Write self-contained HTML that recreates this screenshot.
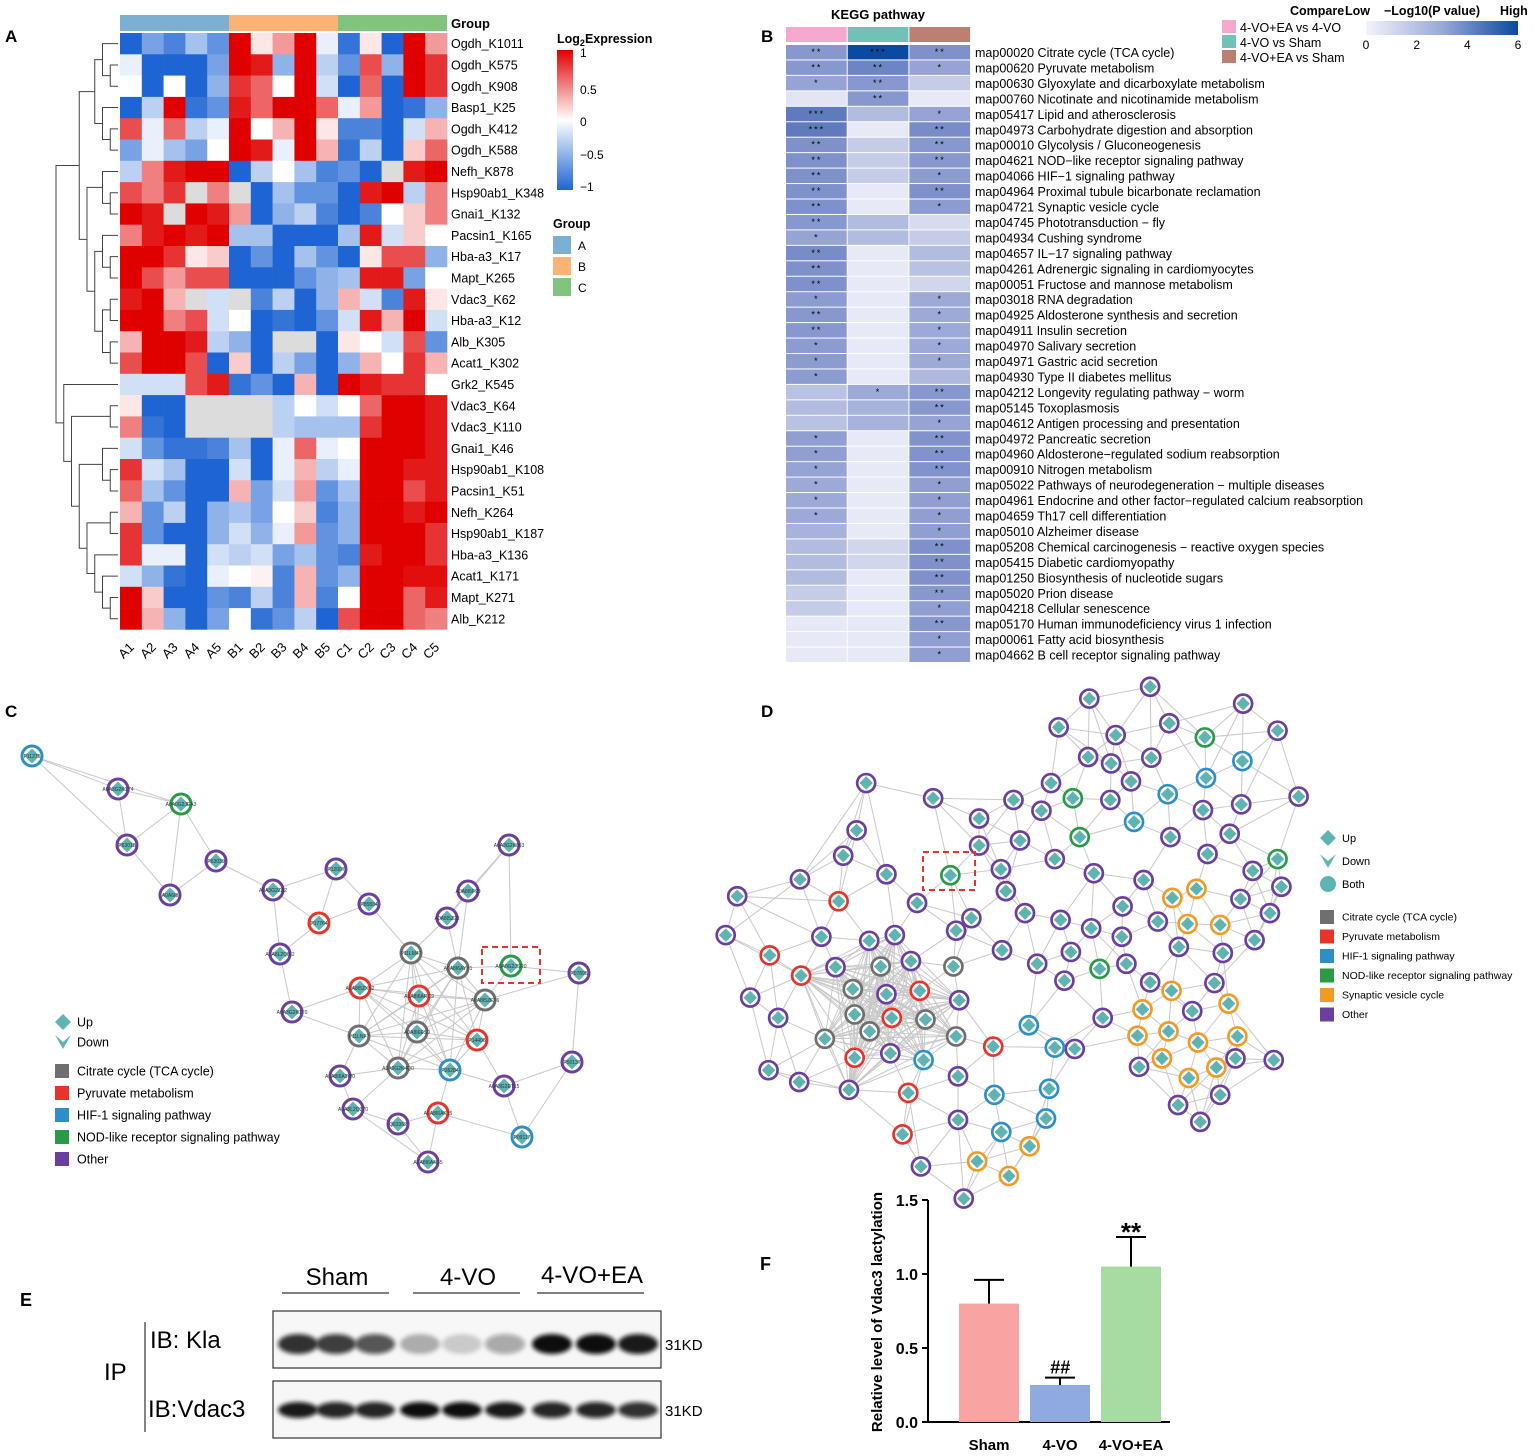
<!DOCTYPE html>
<html><head><meta charset="utf-8">
<style>
html,body{margin:0;padding:0;background:#fff;}
svg{display:block;font-family:"Liberation Sans",Arial,sans-serif;}
</style></head>
<body>
<svg id="fig" width="1535" height="1456" viewBox="0 0 1535 1456" xmlns="http://www.w3.org/2000/svg">
<defs>
<filter id="blur2" x="-20%" y="-50%" width="140%" height="200%"><feGaussianBlur stdDeviation="2.2"/></filter>
<linearGradient id="gradA" x1="0" y1="0" x2="0" y2="1"><stop offset="0" stop-color="#e00000"/><stop offset="0.5" stop-color="#ffffff"/><stop offset="1" stop-color="#1e64d2"/></linearGradient>
<linearGradient id="gradB" x1="0" y1="0" x2="1" y2="0"><stop offset="0" stop-color="#f2f4fb"/><stop offset="0.5" stop-color="#9aa8d8"/><stop offset="1" stop-color="#0a4aa0"/></linearGradient>
</defs>
<g id="panelA"></g>
<g id="panelB"></g>
<g id="panelC"></g>
<g id="panelD"></g>
<g id="panelE"></g>
<g id="panelF"></g>
</svg>
<script>
// ---------- Panel A data ----------
const aSamples=["A1","A2","A3","A4","A5","B1","B2","B3","B4","B5","C1","C2","C3","C4","C5"];
const aGenes=["Ogdh_K1011","Ogdh_K575","Ogdh_K908","Basp1_K25","Ogdh_K412","Ogdh_K588","Nefh_K878","Hsp90ab1_K348","Gnai1_K132","Pacsin1_K165","Hba-a3_K17","Mapt_K265","Vdac3_K62","Hba-a3_K12","Alb_K305","Acat1_K302","Grk2_K545","Vdac3_K64","Vdac3_K110","Gnai1_K46","Hsp90ab1_K108","Pacsin1_K51","Nefh_K264","Hsp90ab1_K187","Hba-a3_K136","Acat1_K171","Mapt_K271","Alb_K212"];
const N=null;
const aValues=[
[-1,-.6,-.8,-.4,-.7,1,.1,.4,1,-.1,-.9,.1,-1,1,.4],
[-.1,-1,-1,-1,-.6,1,.9,-.5,1,-.3,-.7,.7,-.5,1,.8],
[0,-1,0,-1,-.5,.8,.6,0,1,-.2,-1,.6,-1,1,.8],
[-1,-.3,1,-.9,-.7,.9,.6,1,1,.6,-.1,.4,-1,-.9,-.5],
[.7,-.1,.6,-.3,-.1,1,0,.3,1,.1,-.8,-.8,-1,-.2,.3],
[-.6,-.1,-.4,-.6,0,1,.9,-.1,1,.3,-.9,-.3,-1,.2,.6],
[-.3,.5,.9,1,1,-1,-.3,0,-.4,-.8,-.7,-1,N,.9,1],
[.7,.5,.8,N,.5,N,-1,-.4,-.7,-.7,-1,.9,1,-.3,.5],
[1,.9,N,1,.9,.4,-1,-.5,-.3,-.8,-1,-.8,0,.2,.5],
[.5,.9,1,.9,1,-.4,-.4,-1,-1,-1,-.4,.9,-.2,.2,0],
[1,1,.8,.1,.2,-1,-.7,-1,-.4,-.7,-1,.1,.7,.7,-.5],
[1,.7,.4,.7,.7,-1,-1,-1,-.7,-.5,-.4,.9,.9,-.6,0],
[.9,1,.3,N,-.2,N,-.8,-.3,-1,-.5,.3,-.2,-.8,.9,.1],
[1,1,.5,.7,-.2,0,-1,-.9,-1,-.7,-.2,.9,.3,1,-.2],
[.3,1,1,.9,-.3,-.5,-1,N,N,-1,.1,0,-.2,.7,-.7],
[.7,1,1,.7,-1,.2,-1,-.3,-.6,-1,-.5,.3,0,.8,.3],
[-.2,-.2,-.2,.7,.9,-.9,-.7,-1,.3,-1,1,.9,.8,.8,0],
[.1,-1,-1,N,N,N,N,-.3,0,-.2,0,.6,1,1,.9],
[.5,-.9,-1,N,N,N,N,-.3,-.4,-.4,-.4,.8,1,1,.9],
[-.2,-.7,-.9,-.9,-.8,-.4,-1,-.1,.6,-.1,0,1,1,1,.9],
[.8,-.2,-.4,-1,-1,-.2,-1,-.1,.3,-.3,-.1,1,1,.9,.9],
[.6,-.4,-.7,-1,-1,.3,-.6,-.2,.4,-.7,-.4,1,1,.7,.9],
[.3,-.7,-.3,-1,-.5,-.4,-.6,0,.2,-.8,-.5,1,1,.9,1],
[.8,-.7,-1,-1,-.5,-.2,-.5,-.1,.4,-.7,-.5,1,1,1,.8],
[.8,-.1,-.1,-1,-.2,-.3,-.2,-.6,-.4,-.7,-.8,.9,1,1,.8],
[-.2,-.5,-.9,-1,-.1,0,.05,-.8,.3,-.7,-.5,1,1,.95,.95],
[1,.2,-1,-1,-.7,-.8,-.3,-.8,.3,-.8,0,1,1,.6,.9],
[1,.3,-.5,-1,-.6,0,-.9,-.7,-.3,-1,.7,1,1,.6,.5]];
const aGroups=["A","B","C"];
const aTree=[[[[0,[1,2]],[3,[4,5]]],[[6,[7,8]],[[9,[10,11]],[[12,13],[14,15]]]]],[16,[[17,18],[[19,[20,21]],[[22,23],[24,[25,[26,27]]]]]]]];

// ---------- Panel B data ----------
const bPathways=["map00020 Citrate cycle (TCA cycle)","map00620 Pyruvate metabolism","map00630 Glyoxylate and dicarboxylate metabolism","map00760 Nicotinate and nicotinamide metabolism","map05417 Lipid and atherosclerosis","map04973 Carbohydrate digestion and absorption","map00010 Glycolysis / Gluconeogenesis","map04621 NOD−like receptor signaling pathway","map04066 HIF−1 signaling pathway","map04964 Proximal tubule bicarbonate reclamation","map04721 Synaptic vesicle cycle","map04745 Phototransduction − fly","map04934 Cushing syndrome","map04657 IL−17 signaling pathway","map04261 Adrenergic signaling in cardiomyocytes","map00051 Fructose and mannose metabolism","map03018 RNA degradation","map04925 Aldosterone synthesis and secretion","map04911 Insulin secretion","map04970 Salivary secretion","map04971 Gastric acid secretion","map04930 Type II diabetes mellitus","map04212 Longevity regulating pathway − worm","map05145 Toxoplasmosis","map04612 Antigen processing and presentation","map04972 Pancreatic secretion","map04960 Aldosterone−regulated sodium reabsorption","map00910 Nitrogen metabolism","map05022 Pathways of neurodegeneration − multiple diseases","map04961 Endocrine and other factor−regulated calcium reabsorption","map04659 Th17 cell differentiation","map05010 Alzheimer disease","map05208 Chemical carcinogenesis − reactive oxygen species","map05415 Diabetic cardiomyopathy","map01250 Biosynthesis of nucleotide sugars","map05020 Prion disease","map04218 Cellular senescence","map05170 Human immunodeficiency virus 1 infection","map00061 Fatty acid biosynthesis","map04662 B cell receptor signaling pathway"];
const bComparisons=["4-VO+EA vs 4-VO","4-VO vs Sham","4-VO+EA vs Sham"];
const bCol1=[2.5,2.5,2,0.3,3.5,3.5,2.8,2.8,2.8,2.8,2.8,2.5,2,3,2.8,2.8,2.3,2.5,2.5,2.3,2.3,2.3,1,1.2,1,2.2,2.2,2,1.8,1.8,1.8,1.5,1.2,1.2,1.2,0.8,0.8,0.2,0.2,0.2];
const bCol2=[6,3.2,2.5,2.5,1.2,0.2,0.8,0.8,0.8,0.2,0.2,1.2,1.2,0.2,0.2,0.2,0.2,0.2,0.2,0.2,0.2,0.2,1.8,1.5,1.5,0.2,0.2,0.2,0.2,0.2,0.2,0.2,0.6,0.6,0.2,0.2,0.2,0.2,0.2,0.2];
const bCol3=[2.8,2,0.8,0.2,2,3,2.5,2.5,2.3,2.8,2.3,0.5,0.8,1.2,1.0,0.6,1.8,1.8,1.8,1.8,1.8,1.3,2.5,2.5,2,2.7,2.7,2.7,2.2,2.2,2.2,2.2,2.8,2.8,2.8,2.5,2.2,2.5,2.2,2.2];
const bStars1=["**","**","*","","***","***","**","**","**","**","**","**","*","**","**","**","*","**","**","*","*","*","","","","*","*","*","*","*","*","","","","","","","","",""];
const bStars2=["***","**","**","**","","","","","","","","","","","","","","","","","","","*","","","","","","","","","","","","","","","","",""];
const bStars3=["**","*","","","*","**","**","**","*","**","*","","","","","","*","*","*","*","*","","**","**","*","**","**","**","*","*","*","*","**","**","**","**","*","**","*","*"];
const bTicks=[0,2,4,6];

// ---------- Panel F data ----------
const fGroups=["Sham","4-VO","4-VO+EA"];
const fMeans=[0.80,0.25,1.05];
const fErrors=[0.16,0.05,0.20];
const fMarks=["","##","**"];
const fTicks=[0,0.5,1.0,1.5];

// ---------- Panel E data (band intensities) ----------
const eKla=[0.85,0.8,0.7,0.3,0.18,0.35,1,1,0.95];
const eVdac3=[0.95,0.9,0.9,1,1,0.95,0.9,0.9,0.85];

// ---------- Network layouts ----------
const cNodes=[[32,756,"P11275","b"],[118,789,"A0A3G2K1Y4","p"],[181,804,"A0A0G2JEA3","g"],[127,845,"P63018","p"],[216,861,"P63039","p"],[170,895,"A0A6I8","p"],[273,890,"A0A3G2ZA2","p"],[336,869,"P12007","p"],[369,904,"P85834","p"],[319,923,"P17764","r"],[447,918,"A0A8I5Z23","p"],[468,891,"A0A8I6F99","p"],[509,845,"A0A3G2K863","p"],[411,953,"P11LM47","k"],[458,968,"A0A8I6AYY1","k"],[511,966,"A0A0G2JSR0","g"],[579,973,"P07895","p"],[280,954,"A0A8L2QBI2","p"],[360,988,"A0A8I5ZXS2","r"],[419,996,"A0A8I6ARC9","r"],[485,1000,"A0A8I5ZET6","k"],[292,1012,"A0A3G2K1T0","p"],[359,1036,"P11LNF7","k"],[417,1032,"A0A8I6ES0","k"],[477,1040,"P14408","r"],[398,1068,"A0A0G2K4Q0","k"],[450,1070,"P26284","b"],[340,1076,"A0A8I6A3W0","p"],[572,1062,"P50137","p"],[504,1086,"A0A3G2ET15","p"],[438,1113,"A0A8I6AK15","r"],[353,1109,"A0A8L2Q370","p"],[398,1124,"Q63362","p"],[522,1137,"P09117","b"],[428,1162,"A0A8I6A4G5","p"]];
const dPurple=[[1137,20],[978,55],[1380,70],[1470,150],[898,140],[1047,163],[1187,128],[975,228],[1035,247],[1140,230],[1087,300],[878,305],[780,355],[853,387],[1033,355],[1375,368],[1275,385],[1525,345],[690,410],[570,350],[395,305],[370,445],[690,490],[797,475],[1190,465],[1345,455],[1287,515],[888,530],[747,560],[990,572],[1120,592],[335,520],[448,575],[222,590],[58,640],[760,625],[528,660],[1405,565],[1480,612],[1373,648],[1065,670],[810,690],[903,710],[983,735],[1063,760],[1157,715],[1450,690],[1410,770],[1212,790],[1327,808],[28,755],[278,760],[403,772],[470,755],[630,742],[670,705],[750,800],[512,832],[842,840],[930,805],[1075,840],[315,850],[913,890],[1137,895],[1305,897],[1247,980],[92,940],[448,930],[638,948],[165,1000],[1013,1000],[940,1092],[458,1105],[1360,1120],[1108,1145],[140,1155],[220,1190],[350,1213],[635,1173],[635,1302],[538,1440],[1320,1228],[1210,1258],[1268,1308],[1460,1125],[650,1535]];
const dGray=[[433,848],[623,848],[360,915],[365,990],[550,1005],[404,1040],[630,1055],[287,1062]];
const dRed=[[323,655],[143,815],[225,875],[535,920],[462,1000],[365,1118],[727,1085],[505,1222],[490,1345]];
const dBlue=[[1378,240],[1283,290],[1183,338],[1095,420],[820,1022],[888,1088],[730,1228],[873,1210],[865,1298],[748,1338],[545,1125]];
const dGreen=[[1280,170],[935,350],[953,465],[615,578],[1470,530],[1005,855]];
const dOrange=[[1195,645],[1258,618],[1235,722],[1320,725],[1193,920],[1342,958],[1117,975],[1104,1053],[1185,1040],[1262,1073],[1365,1055],[1168,1120],[1310,1147],[1238,1178],[822,1380],[685,1425],[768,1468]];

const NS="http://www.w3.org/2000/svg";
function mk(parent,tag,attrs,text){const e=document.createElementNS(NS,tag);for(const k in attrs)e.setAttribute(k,attrs[k]);if(text!==undefined)e.textContent=text;parent.appendChild(e);return e;}
function lerp(a,b,t){return Math.round(a+(b-a)*t);}
function mix(c1,c2,t){return `rgb(${lerp(c1[0],c2[0],t)},${lerp(c1[1],c2[1],t)},${lerp(c1[2],c2[2],t)})`;}

// ===== Panel A =====
(function(){
const g=document.getElementById('panelA');
let t=mk(g,'text',{x:5,y:42,'font-size':17,'font-weight':'bold'},'A');

const x0=120,cw=21.8,y0=33,rh=21.3;
const xS=i=>x0+i*cw, yS=j=>y0+j*rh;
const red=[224,0,0],wh=[255,255,255],bl=[30,100,210];
function col(v){if(v===null)return '#dcdcdc';return v>=0?mix(wh,red,v):mix(wh,bl,-v);}
const gcol=["#7bafd4","#fdb275","#80c47d"];
aGroups.forEach((gr,k)=>{const r=mk(g,'rect',{x:xS(k*5),y:15,width:cw*5,height:16,fill:gcol[k]});
});
t=mk(g,'text',{x:451,y:28,'font-size':13,'font-weight':'bold'},'Group');

aValues.forEach((row,j)=>{row.forEach((v,i)=>{const r=mk(g,'rect',{x:xS(i),y:yS(j),width:cw+0.3,height:rh+0.3,fill:col(v)});
});
const lb=mk(g,'text',{x:451,y:yS(j)+rh/2+4.5,'font-size':12.5},aGenes[j]);
});
aSamples.forEach((s,i)=>{const cx=xS(i)+cw/2+4,cy=648;const lb=mk(g,'text',{x:cx,y:cy,'font-size':13,'text-anchor':'end',transform:`rotate(-45 ${cx} ${cy})`},s);
});
const dg=mk(g,'g',{stroke:'#444','stroke-width':1,fill:'none'});

function depth(n){return Array.isArray(n)?1+Math.max(depth(n[0]),depth(n[1])):0;}
const D=depth(aTree);
function draw(n){if(!Array.isArray(n))return{y:yS(n)+rh/2,x:118};
const a=draw(n[0]),b=draw(n[1]);const x=118-depth(n)*(62/D);
mk(dg,'path',{d:`M${a.x},${a.y}H${x}V${b.y}H${b.x}`});return{y:(a.y+b.y)/2,x:x};}
draw(aTree);
t=mk(g,'text',{x:557,y:43,'font-size':12.5,'font-weight':'bold'},'Log');
mk(t,'tspan',{'font-size':9,dy:3},'2');mk(t,'tspan',{dy:-3},'Expression');
const cb=mk(g,'rect',{x:557,y:50,width:16,height:140,fill:'url(#gradA)'});
[["1",57],["0.5",94],["0",126],["−0.5",159],["−1",191]].forEach(([s,y])=>{const l=mk(g,'text',{x:580,y:y,'font-size':12},s);});
t=mk(g,'text',{x:553,y:228,'font-size':12.5,'font-weight':'bold'},'Group');
aGroups.forEach((gr,k)=>{const r=mk(g,'rect',{x:553,y:236+k*21,width:18,height:18,fill:gcol[k]});
const l=mk(g,'text',{x:578,y:250+k*21,'font-size':12},gr);});
})();

// ===== Panel B =====
(function(){
const g=document.getElementById('panelB');
let t=mk(g,'text',{x:761,y:42,'font-size':17,'font-weight':'bold'},'B');
t=mk(g,'text',{x:878,y:19,'font-size':13,'font-weight':'bold','text-anchor':'middle'},'KEGG pathway');
const x0=786,cw=61.7,y0=45,rh=15.45;
const cc=["#f7a8cf","#70c2b8","#bd7f72"];
const cols=[bCol1,bCol2,bCol3],stars=[bStars1,bStars2,bStars3];
const stops=[[242,244,251],[185,194,226],[150,163,212],[120,140,200],[70,105,180],[30,80,160],[10,74,160]];
function col(v){const p=Math.max(0,Math.min(6,v));const i=Math.min(5,Math.floor(p));return mix(stops[i],stops[i+1],p-i);}
cc.forEach((c,k)=>{const r=mk(g,'rect',{x:x0+k*cw,y:27,width:cw-1,height:15,fill:c});});
bPathways.forEach((p,j)=>{cols.forEach((arr,k)=>{const r=mk(g,'rect',{x:x0+k*cw,y:y0+j*rh,width:cw-1,height:rh-1,fill:col(arr[j])});
if(stars[k][j]){const s=mk(g,'text',{x:x0+k*cw+cw/2,y:y0+j*rh+10,'font-size':9,'text-anchor':'middle','letter-spacing':'2'},stars[k][j]);}});
const l=mk(g,'text',{x:975,y:y0+j*rh+12,'font-size':12.5},p);});
bComparisons.forEach((c,k)=>{const r=mk(g,'rect',{x:1222,y:20+k*15,width:14,height:13,fill:cc[k]});
const l=mk(g,'text',{x:1240,y:32+k*15,'font-size':12.5},c);});
t=mk(g,'text',{x:1290,y:15,'font-size':12.5,'font-weight':'bold'},'Compare');
t=mk(g,'text',{x:1345,y:15,'font-size':12.5,'font-weight':'bold'},'Low');
t=mk(g,'text',{x:1384,y:15,'font-size':12.5,'font-weight':'bold'},'−Log10(P value)');
t=mk(g,'text',{x:1500,y:15,'font-size':12.5,'font-weight':'bold'},'High');
const cbx=1366,cbw=152;
const cb=mk(g,'rect',{x:cbx,y:21,width:cbw,height:14,fill:'url(#gradB)'});
bTicks.forEach(v=>{const x=cbx+v/6*cbw;const l=mk(g,'text',{x:x,y:49,'font-size':12,'text-anchor':'middle'},String(v));});
})();

// ===== Network helpers =====
const ringCol={p:'#6a3fa0',g:'#2a9a45',b:'#2e8fc8',r:'#e8332a',k:'#6f6f6f',o:'#f39a25'};
function network(g,nodes,r,k,fs,core){
const eg=mk(g,'g',{stroke:'#c8c8c8','stroke-width':1});
const seen={};
function edge(i,j){const key=Math.min(i,j)+'-'+Math.max(i,j);if(seen[key]||i===j)return;seen[key]=1;
const l=mk(eg,'line',{x1:nodes[i][0],y1:nodes[i][1],x2:nodes[j][0],y2:nodes[j][1]});}
nodes.forEach((a,i)=>{const d=nodes.map((b,j)=>[j,(a[0]-b[0])**2+(a[1]-b[1])**2]).filter(e=>e[0]!==i).sort((p,q)=>p[1]-q[1]);
d.slice(0,k).forEach(([j])=>edge(i,j));});
if(core){const ids=nodes.map((n,i)=>[i,Math.hypot(n[0]-core[0],n[1]-core[1])]).filter(e=>e[1]<core[2]).map(e=>e[0]);
ids.forEach(i=>ids.forEach(j=>{if(i<j)edge(i,j);}));}
nodes.forEach(n=>{const ng=mk(g,'g',{});
mk(ng,'circle',{cx:n[0],cy:n[1],r:r,fill:'#fff',stroke:ringCol[n[3]],'stroke-width':r*0.3});
const s=r*0.75;mk(ng,'path',{d:`M${n[0]},${n[1]-s}L${n[0]+s},${n[1]}L${n[0]},${n[1]+s}L${n[0]-s},${n[1]}Z`,fill:'#5fb3b3'});
if(n[2])mk(ng,'text',{x:n[0],y:n[1]+2,'font-size':fs,'text-anchor':'middle',fill:'#333'},n[2]);});
}
function legend(g,x,y,step,fs,items){
items.forEach((it,i)=>{const yy=y+i*step;const lg=mk(g,'g',{});
if(it[0]==='up')mk(lg,'path',{d:`M${x+8},${yy-8}L${x+16},${yy}L${x+8},${yy+8}L${x},${yy}Z`,fill:'#5fb3b3'});
else if(it[0]==='down')mk(lg,'path',{d:`M${x},${yy-7}L${x+8},${yy+7}L${x+16},${yy-7}L${x+8},${yy}Z`,fill:'#5fb3b3'});
else if(it[0]==='both')mk(lg,'circle',{cx:x+8,cy:yy,r:8,fill:'#5fb3b3'});
else mk(lg,'rect',{x:x,y:yy-7,width:14,height:14,fill:it[0]});
mk(lg,'text',{x:x+22,y:yy+fs*0.35,'font-size':fs},it[1]);});
}

// ===== Panel C =====
(function(){
const g=document.getElementById('panelC');
let t=mk(g,'text',{x:5,y:717,'font-size':17,'font-weight':'bold'},'C');
network(g,cNodes,10,3,5,[420,1020,75]);
const hl=mk(g,'rect',{x:482,y:947,width:58,height:36,fill:'none',stroke:'#e8332a','stroke-width':2,'stroke-dasharray':'6,4'});
legend(g,55,1022,20,12.5,[['up','Up'],['down','Down']]);
legend(g,55,1071,22,12.5,[['#6f6f6f','Citrate cycle (TCA cycle)'],['#e8332a','Pyruvate metabolism'],['#2e8fc8','HIF-1 signaling pathway'],['#2a9a45','NOD-like receptor signaling pathway'],['#6a3fa0','Other']]);
})();

// ===== Panel D =====
(function(){
const g=document.getElementById('panelD');
let t=mk(g,'text',{x:761,y:717,'font-size':17,'font-weight':'bold'},'D');
const X=z=>715+z/2.613,Y=z=>680+z/2.96;
const nodes=[];
[[dPurple,'p'],[dGray,'k'],[dRed,'r'],[dBlue,'b'],[dGreen,'g'],[dOrange,'o']].forEach(([arr,c])=>arr.forEach(p=>nodes.push([X(p[0]),Y(p[1]),'',c])));
network(g,nodes,9,5,3,[878,1010,85]);
const hl=mk(g,'rect',{x:923,y:852,width:52,height:38,fill:'none',stroke:'#e8332a','stroke-width':2,'stroke-dasharray':'6,4'});
legend(g,1320,838,23,11,[['up','Up'],['down','Down'],['both','Both']]);
legend(g,1320,917,19.5,10.5,[['#6f6f6f','Citrate cycle (TCA cycle)'],['#e8332a','Pyruvate metabolism'],['#2e8fc8','HIF-1 signaling pathway'],['#2a9a45','NOD-like receptor signaling pathway'],['#f39a25','Synaptic vesicle cycle'],['#6a3fa0','Other']]);
})();

// ===== Panel E =====
(function(){
const g=document.getElementById('panelE');
let t=mk(g,'text',{x:20,y:1306,'font-size':18,'font-weight':'bold'},'E');
[["Sham",337,1285],["4-VO",468,1285],["4-VO+EA",592,1283]].forEach(([s,x,y],i)=>{const l=mk(g,'text',{x:x,y:y,'font-size':24,'text-anchor':'middle'},s);
const ln=mk(g,'line',{x1:x-55,y1:1293,x2:x+52,y2:1293,stroke:'#333','stroke-width':1.2});});
t=mk(g,'text',{x:104,y:1380,'font-size':24},'IP');
mk(g,'line',{x1:145,y1:1322,x2:145,y2:1432,stroke:'#333','stroke-width':1.2});
t=mk(g,'text',{x:150,y:1348,'font-size':24},'IB: Kla');
t=mk(g,'text',{x:148,y:1417,'font-size':24},'IB:Vdac3');
const lanes=[298,336,375,420,462,505,552,596,638];
[[eKla,1311,1344,'kla',10],[eVdac3,1381,1410,'vdac3',8]].forEach(([vals,by,cy,nm,ry])=>{
const box=mk(g,'rect',{x:273,y:by,width:388,height:57,fill:'#f7f7f7',stroke:'#333','stroke-width':1.2});
vals.forEach((v,i)=>{const e=mk(g,'ellipse',{cx:lanes[i],cy:cy,rx:20,ry:ry,fill:'#111','fill-opacity':v,filter:'url(#blur2)'});});
const kd=mk(g,'text',{x:665,y:cy+6,'font-size':15},'31KD');});
})();

// ===== Panel F =====
(function(){
const g=document.getElementById('panelF');
let t=mk(g,'text',{x:760,y:1270,'font-size':18,'font-weight':'bold'},'F');
const y0=1422,ppu=148,xa=928;
const yS=v=>y0-v*ppu;
const xS=i=>989+i*71;
const colors=['#f9a3a3','#8eaade','#a6dca1'];
const ax=mk(g,'path',{d:`M${xa},${yS(1.5)}V${y0}H1170`,stroke:'#000','stroke-width':2,fill:'none'});
fTicks.forEach(v=>{mk(g,'line',{x1:xa-6,y1:yS(v),x2:xa,y2:yS(v),stroke:'#000','stroke-width':2});
const l=mk(g,'text',{x:xa-10,y:yS(v)+6,'font-size':16,'font-weight':'bold','text-anchor':'end'},v.toFixed(1));});
fMeans.forEach((m,i)=>{const x=xS(i);
const b=mk(g,'rect',{x:x-30,y:yS(m),width:60,height:y0-yS(m),fill:colors[i]});
const eb=mk(g,'path',{d:`M${x},${yS(m)}V${yS(m+fErrors[i])}M${x-15},${yS(m+fErrors[i])}H${x+15}`,stroke:'#000','stroke-width':2,fill:'none'});
if(fMarks[i]){const s=mk(g,'text',{x:x,y:yS(m+fErrors[i])-4+(i===1?0:8),'font-size':i===1?18:26,'font-weight':'bold','text-anchor':'middle','font-style':i===1?'italic':'normal'},fMarks[i]);}
const l=mk(g,'text',{x:x,y:1450,'font-size':15,'font-weight':'bold','text-anchor':'middle'},fGroups[i]);});
t=mk(g,'text',{x:882,y:1312,'font-size':15,'font-weight':'bold','text-anchor':'middle',transform:'rotate(-90 882 1312)'},'Relative  level of Vdac3 lactylation');
})();
</script>
</body></html>
